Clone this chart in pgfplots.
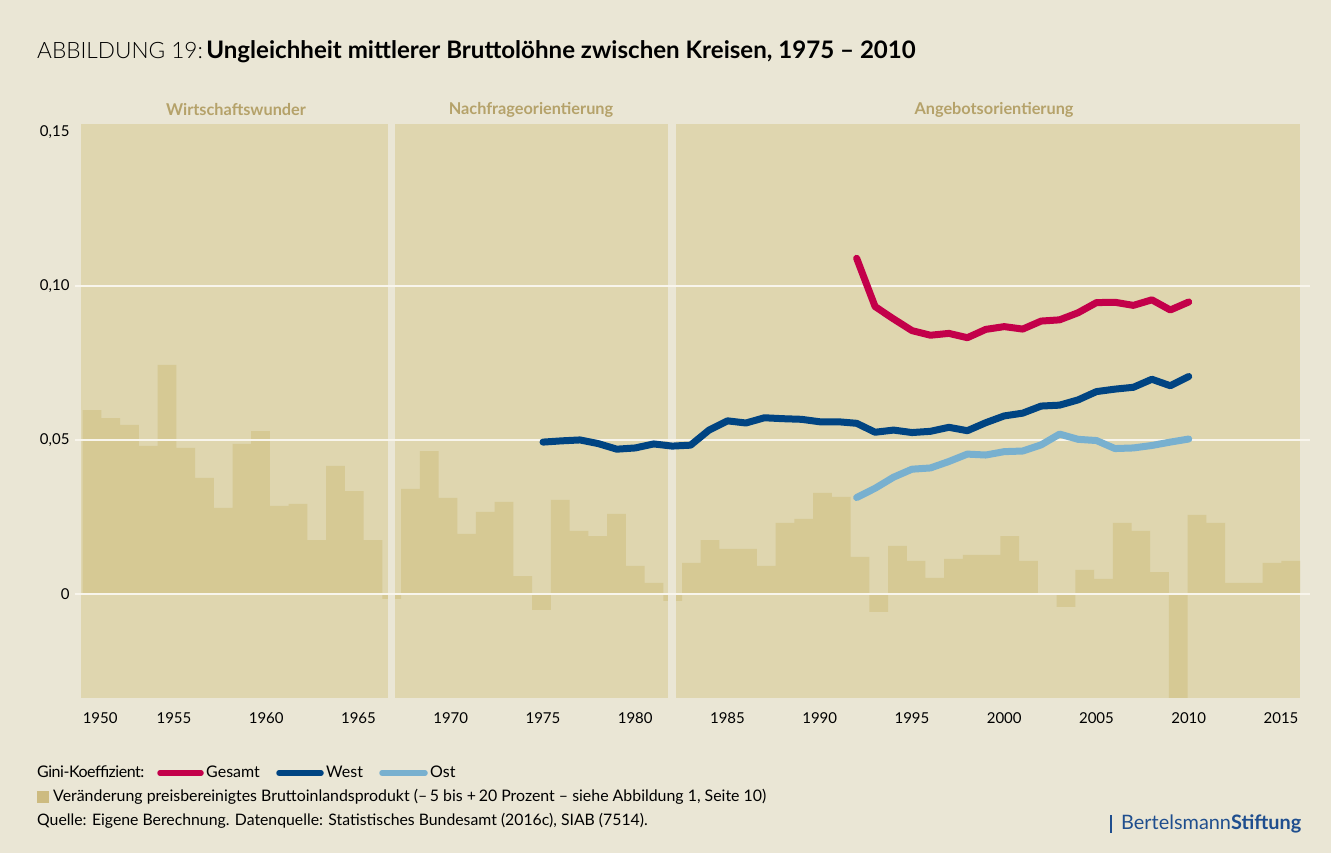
\documentclass[border=0pt]{standalone}
\usepackage{fontspec}
\setmainfont{Lato}
\newfontfamily\latolight{Lato Light}
\usepackage{pgfplots}
\pgfplotsset{compat=1.18}
\usepackage{pgfplotstable}

\definecolor{bgc}{HTML}{EAE6D5}
\definecolor{panelc}{HTML}{DFD6AF}
\definecolor{barc}{HTML}{D6C994}
\definecolor{legbarc}{HTML}{CDBB80}
\definecolor{gridc}{HTML}{F8F5EC}
\definecolor{gesc}{HTML}{C3004A}
\definecolor{westc}{HTML}{004482}
\definecolor{ostc}{HTML}{78B0CF}
\definecolor{labc}{HTML}{B5A26A}
\definecolor{bertc}{HTML}{1F4E8E}

\pgfplotstableread{
k v
0 0.0597
1 0.0571
2 0.0549
3 0.0481
4 0.0744
5 0.0474
6 0.0377
7 0.0279
8 0.0487
9 0.0529
10 0.0286
11 0.0292
12 0.0175
13 0.0416
14 0.0334
15 0.0175
16 -0.0016
17 0.0341
18 0.0464
19 0.0312
20 0.0195
21 0.0266
22 0.0299
23 0.0058
24 -0.0052
25 0.0305
26 0.0205
27 0.0188
28 0.0260
29 0.0091
30 0.0036
31 -0.0023
32 0.0101
33 0.0175
34 0.0146
35 0.0146
36 0.0091
37 0.0231
38 0.0244
39 0.0328
40 0.0315
41 0.0120
42 -0.0058
43 0.0156
44 0.0107
45 0.0052
46 0.0114
47 0.0127
48 0.0127
49 0.0188
50 0.0107
51 0.0000
52 -0.0042
53 0.0078
54 0.0049
55 0.0231
56 0.0205
57 0.0071
58 -0.0350
59 0.0257
60 0.0231
61 0.0036
62 0.0036
63 0.0101
64 0.0107
65 0
}\bipdata

\pgfplotstableread{
year v
1975 0.0493
1976 0.0497
1977 0.0500
1978 0.0488
1979 0.0470
1980 0.0474
1981 0.0487
1982 0.0480
1983 0.0483
1984 0.0532
1985 0.0562
1986 0.0555
1987 0.0572
1988 0.0569
1989 0.0567
1990 0.0559
1991 0.0559
1992 0.0554
1993 0.0525
1994 0.0532
1995 0.0524
1996 0.0528
1997 0.0541
1998 0.0530
1999 0.0556
2000 0.0578
2001 0.0587
2002 0.0610
2003 0.0613
2004 0.0630
2005 0.0657
2006 0.0665
2007 0.0671
2008 0.0697
2009 0.0676
2010 0.0706
}\westdata

\pgfplotstableread{
year v
1992 0.1090
1993 0.0933
1994 0.0893
1995 0.0855
1996 0.0840
1997 0.0846
1998 0.0832
1999 0.0859
2000 0.0868
2001 0.0860
2002 0.0886
2003 0.0890
2004 0.0913
2005 0.0946
2006 0.0947
2007 0.0937
2008 0.0955
2009 0.0922
2010 0.0948
}\gesdata

\pgfplotstableread{
year v
1992 0.0313
1993 0.0343
1994 0.0379
1995 0.0405
1996 0.0409
1997 0.0430
1998 0.0454
1999 0.0451
2000 0.0462
2001 0.0464
2002 0.0484
2003 0.0519
2004 0.0502
2005 0.0498
2006 0.0472
2007 0.0474
2008 0.0482
2009 0.0493
2010 0.0503
}\ostdata

\begin{document}
\begin{tikzpicture}[x=1pt,y=1pt]
\fill[bgc] (0,0) rectangle (1331,853);
\path[use as bounding box] (0,0) rectangle (1331,853);
\fill[panelc] (81,155) rectangle (1300,729);

% GDP bars
\begin{axis}[at={(81pt,155pt)}, anchor=south west,
  width=1219pt, height=574pt, scale only axis,
  xmin=-0.09, xmax=65, ymin=-0.0338, ymax=0.1526,
  axis lines=none]
\addplot[ybar interval, fill=barc, draw=none] table[x=k, y=v] {\bipdata};
\end{axis}

% panel gaps
\fill[bgc] (388,155) rectangle (395,729);
\fill[bgc] (668,155) rectangle (676,729);

% Gini lines
\begin{axis}[at={(81pt,155pt)}, anchor=south west,
  width=1219pt, height=574pt, scale only axis,
  xmin=1949.96, xmax=2016.03, ymin=-0.0338, ymax=0.1526,
  axis line style={draw=none}, major tick length=0pt,
  xtick={1951,1955,1960,1965,1970,1975,1980,1985,1990,1995,2000,2005,2010,2015},
  xticklabels={1950,1955,1960,1965,1970,1975,1980,1985,1990,1995,2000,2005,2010,2015},
  ytick={0,0.05,0.1,0.15},
  yticklabels={0,{0,05},{0,10},{0,15}},
  ticklabel style={font=\fontsize{15}{18}\selectfont, text=black},
  xticklabel style={yshift=-11pt},
  yticklabel style={xshift=-8pt},
  clip=false]
\draw[gridc, line width=1.6pt] (axis cs:1949.63,0) -- (axis cs:2016.57,0);
\draw[gridc, line width=1.6pt] (axis cs:1949.63,0.05) -- (axis cs:2016.57,0.05);
\draw[gridc, line width=1.6pt] (axis cs:1949.63,0.1) -- (axis cs:2016.57,0.1);
\addplot[westc, line width=7pt, line cap=round, line join=round] table[x=year, y=v] {\westdata};
\addplot[ostc, line width=7pt, line cap=round, line join=round] table[x=year, y=v] {\ostdata};
\addplot[gesc, line width=7pt, line cap=round, line join=round] table[x=year, y=v] {\gesdata};
\end{axis}

% panel titles
\node[text=labc, font=\bfseries\fontsize{16.3}{18}\selectfont] at (236,743) {Wirtschaftswunder};
\node[text=labc, font=\bfseries\fontsize{16.3}{18}\selectfont] at (531,743) {Nachfrageorientierung};
\node[text=labc, font=\bfseries\fontsize{16.3}{18}\selectfont] at (994,743) {Angebotsorientierung};

% title
\node[anchor=base west, inner sep=0] at (37,794) {{\latolight\fontsize{22.6}{26}\selectfont ABBILDUNG 19:} {\bfseries\fontsize{24.1}{26}\selectfont Ungleichheit mittlerer Bruttolöhne zwischen Kreisen, 1975 – 2010}};

% legend / footer
\node[anchor=base west, inner sep=0, font=\fontsize{16}{18}\selectfont\addfontfeatures{LetterSpace=-3}] at (37,75) {Gini-Koeffizient:};
\draw[gesc, line width=5.5pt, line cap=round] (160,80) -- (201,80);
\node[anchor=base west, inner sep=0, font=\fontsize{16}{18}\selectfont] at (206,75) {Gesamt};
\draw[westc, line width=5.5pt, line cap=round] (279,80) -- (321,80);
\node[anchor=base west, inner sep=0, font=\fontsize{16}{18}\selectfont] at (326,75) {West};
\draw[ostc, line width=5.5pt, line cap=round] (382,80) -- (425,80);
\node[anchor=base west, inner sep=0, font=\fontsize{16}{18}\selectfont] at (430,75) {Ost};
\fill[legbarc] (37,50) rectangle (49,62);
\node[anchor=base west, inner sep=0, font=\fontsize{15.9}{18}\selectfont] at (53,51) {Veränderung preisbereinigtes Bruttoinlandsprodukt (–\,5 bis +\,20 Prozent – siehe Abbildung 1, Seite 10)};
\node[anchor=base west, inner sep=0, font=\fontsize{15.8}{18}\selectfont] at (37,27) {Quelle: Eigene Berechnung. Datenquelle: Statistisches Bundesamt (2016c), SIAB (7514).};
\fill[bertc] (1110,20) rectangle (1112,38);
\node[anchor=base west, inner sep=0, text=bertc, font=\fontsize{19.9}{22}\selectfont] at (1121,23) {Bertelsmann\textbf{Stiftung}};
\end{tikzpicture}
\end{document}
